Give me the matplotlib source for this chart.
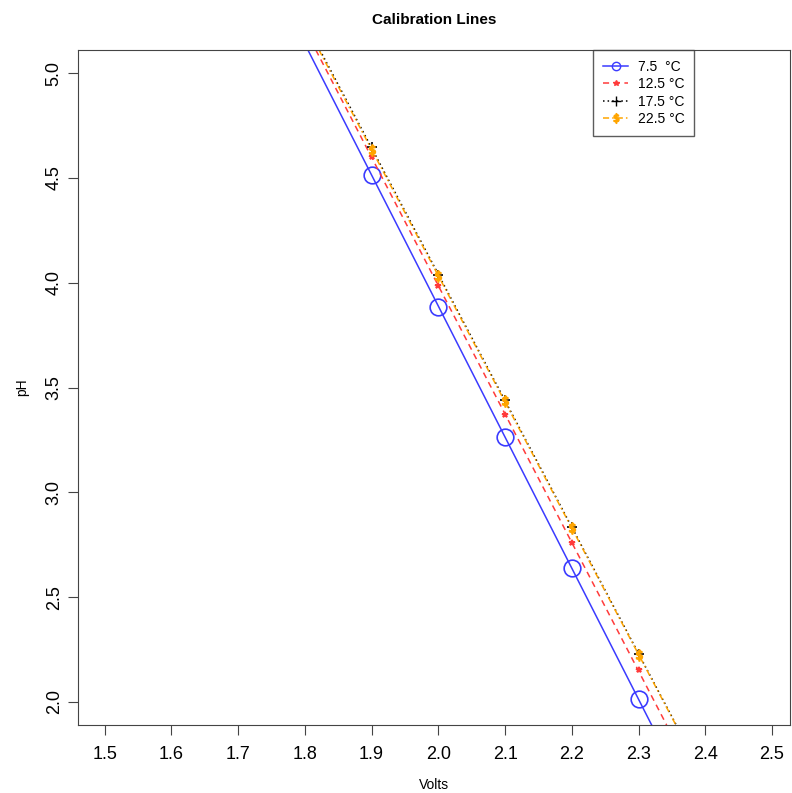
import numpy as np
import matplotlib
matplotlib.use("Agg")
import matplotlib.pyplot as plt

plt.rcParams['font.family'] = ['Liberation Sans', 'DejaVu Sans']

volts = [1.9, 2.0, 2.1, 2.2, 2.3]
ph_075 = [4.515, 3.885, 3.265, 2.638, 2.013]
ph_125 = [4.600, 3.985, 3.370, 2.760, 2.150]
ph_175 = [4.645, 4.035, 3.440, 2.835, 2.230]
ph_225 = [4.635, 4.030, 3.435, 2.830, 2.225]
labels = ["7.5  °C", "12.5 °C", "17.5 °C", "22.5 °C"]

series = [ph_075, ph_125, ph_175, ph_225]
colors = ["#3b3bff", "#ff3b3b", "black", "orange"]
styles = ["-", (0, (4, 3)), (0, (1, 2)), (0, (4, 2, 1, 2))]
markers = ["o", "*", "+", r"$\$$"]
msizes = [12, 4, 7, 8]

fig = plt.figure(figsize=(7.92, 7.93), dpi=100)
ax = fig.add_axes([78/792, 1-725/793, (790-78)/792, (725-50)/793])

handles = []
for ys, c, ls, m, ms, lab in zip(series, colors, styles, markers, msizes, labels):
	slope, icpt = np.polyfit(volts, ys, 1)
	ax.axline((0, icpt), slope=slope, color=c, ls=ls, lw=1.1)
	face = 'none' if m == 'o' else c
	ax.plot(volts, ys, ls='none', marker=m, ms=ms, mfc=face, mec=c, mew=1.2)
	h, = ax.plot([], [], color=c, ls=ls, lw=1.1, marker=m, ms=min(ms, 7) if m != 'o' else 6,
		mfc=face, mec=c, mew=1.0, label=lab)
	handles.append(h)

ax.set_xlim(1.46, 2.527)
ax.set_ylim(1.89, 5.11)
ax.set_xticks(np.arange(1.5, 2.51, 0.1))
ax.set_yticks(np.arange(2.0, 5.01, 0.5))
ax.set_xticklabels(["%.1f" % v for v in np.arange(1.5, 2.51, 0.1)])
ax.set_yticklabels(["%.1f" % v for v in np.arange(2.0, 5.01, 0.5)], rotation=90, va='center')
ax.tick_params(direction='out', length=7, labelsize=13, color='#444444')
ax.tick_params(axis='x', pad=8)
ax.tick_params(axis='y', pad=4)
for s in ax.spines.values():
	s.set_color('#444444')

ax.set_xlabel("Volts", fontsize=10, labelpad=11)
ax.set_ylabel("pH", fontsize=10, labelpad=12)
ax.set_title("Calibration Lines", fontsize=11, fontweight='bold', pad=19)

leg = ax.legend(handles=handles, loc='upper left', bbox_to_anchor=(0.724, 1.0),
	fontsize=10, frameon=True, fancybox=False, edgecolor='#333333',
	handlelength=1.8, borderpad=0.7, labelspacing=0.25, handletextpad=0.7,
	borderaxespad=0)
leg.get_frame().set_linewidth(1.0)

fig.savefig("out.png", dpi=100)
